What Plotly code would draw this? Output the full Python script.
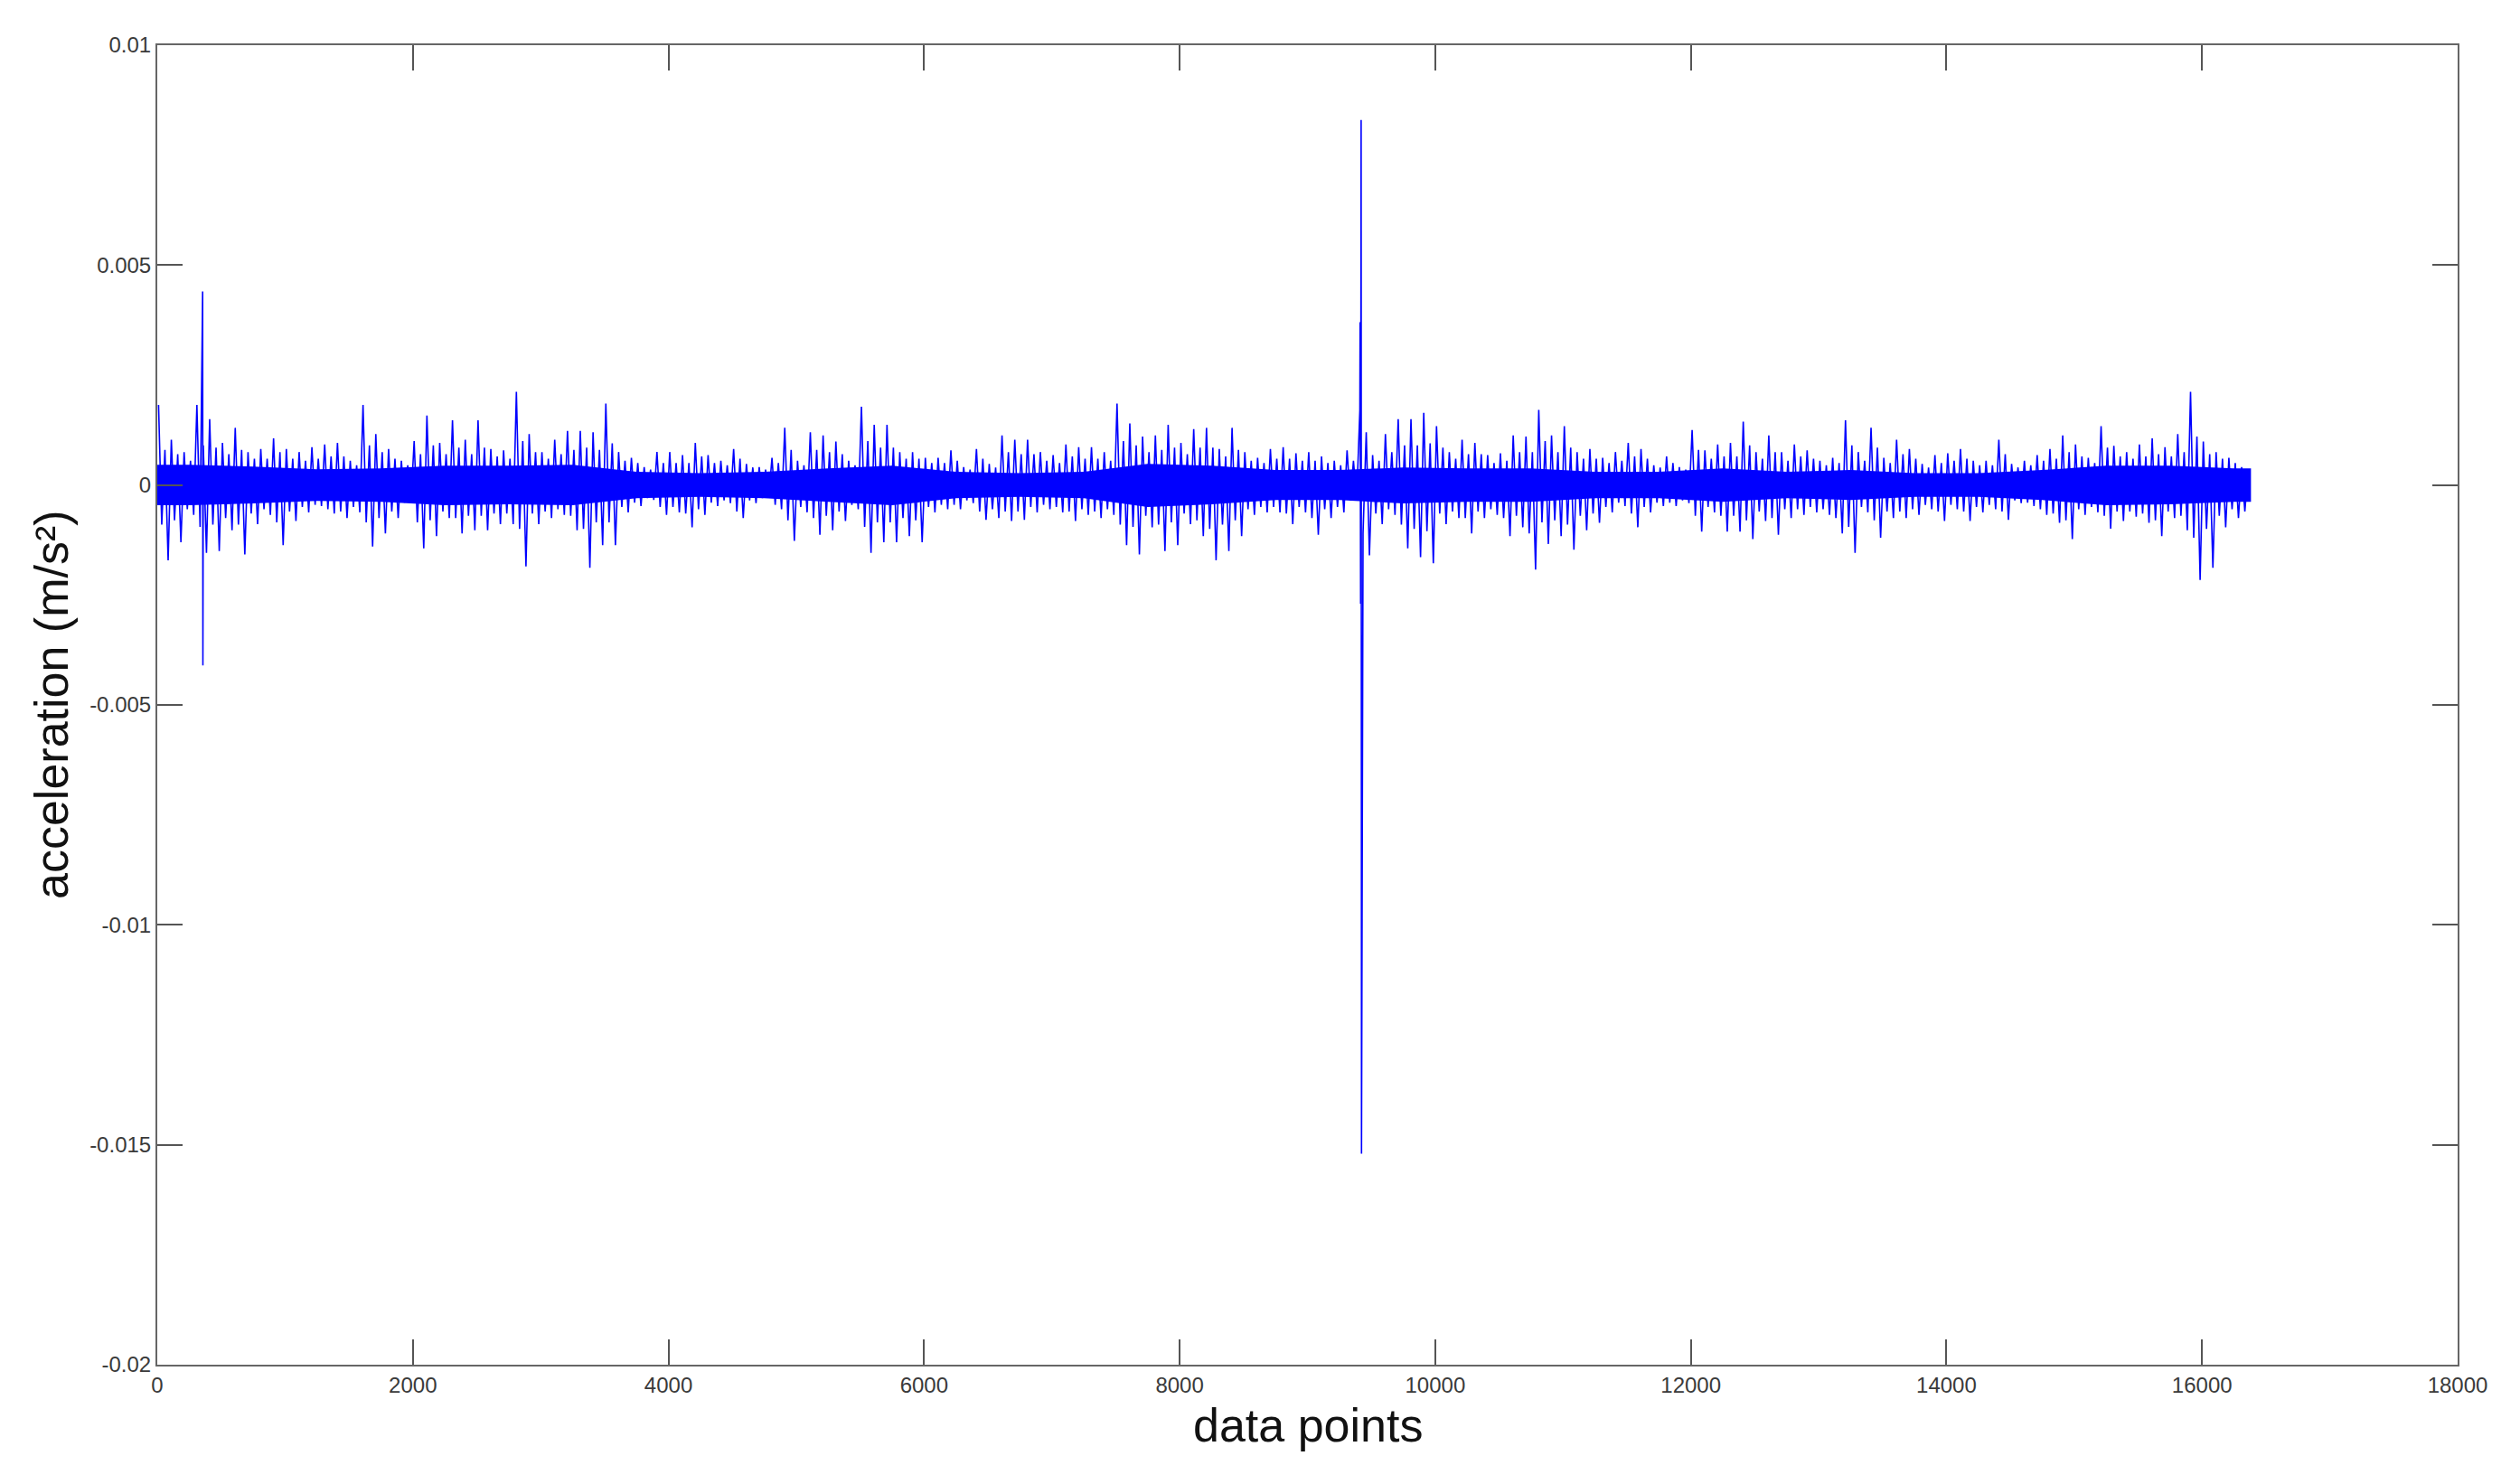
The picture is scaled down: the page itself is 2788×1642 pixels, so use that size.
import numpy as np
import plotly.graph_objects as go

# ---------------- data (acceleration in units of 1e-3 m/s^2) ----------------
VALUE_SCALE = 1e-3
SEGMENT_SIZE = 100          # samples per envelope segment
N_SAMPLES = 16384

# per-100-sample largest positive excursion
upper_peaks = [
    1.82, 1.03, 0.75, 1.82, 1.50, 0.96, 1.30, 0.75, 0.82, 1.06,
    0.82, 0.75, 0.86, 0.92, 0.96, 0.55, 1.82, 1.16, 0.82, 0.55,
    1.00, 1.58, 0.96, 1.47, 1.03, 1.47, 0.82, 0.79, 2.12, 1.16,
    0.75, 1.03, 1.23, 1.23, 1.20, 1.85, 0.75, 0.62, 0.41, 0.75,
    0.75, 0.68, 0.96, 0.68, 0.55, 0.82, 0.48, 0.41, 0.62, 1.30,
    0.55, 1.20, 1.13, 0.99, 0.55, 1.78, 1.37, 1.37, 0.75, 0.75,
    0.62, 0.62, 0.79, 0.41, 0.82, 0.48, 1.13, 1.03, 1.03, 0.75,
    0.68, 0.92, 0.86, 0.86, 0.75, 1.85, 1.40, 1.10, 1.13, 1.37,
    0.96, 1.27, 1.30, 0.82, 1.30, 0.75, 0.62, 0.82, 0.86, 0.72,
    0.75, 0.65, 0.55, 0.79, 1.70, 0.68, 1.16, 1.50, 1.50, 1.64,
    1.34, 0.75, 1.03, 0.96, 0.68, 0.72, 1.13, 1.10, 1.71, 1.13,
    1.34, 0.75, 0.82, 0.62, 0.75, 0.96, 0.82, 0.45, 0.65, 0.41,
    1.25, 0.79, 0.92, 0.96, 1.44, 0.75, 1.13, 0.75, 0.92, 0.79,
    0.55, 0.62, 1.47, 0.75, 1.30, 0.62, 1.03, 0.82, 0.48, 0.68,
    0.72, 0.82, 0.55, 0.55, 1.03, 0.48, 0.55, 0.68, 0.82, 1.13,
    0.92, 0.62, 1.34, 0.89, 0.75, 0.92, 1.06, 0.86, 1.16, 2.12,
    0.99, 0.75, 0.62, 0.41,
]

# per-100-sample largest negative excursion
lower_peaks = [
    -1.71, -1.30, -0.68, -1.54, -1.50, -1.03, -1.58, -0.89, -0.68, -1.37,
    -0.82, -0.62, -0.48, -0.65, -0.75, -0.62, -1.40, -1.10, -0.75, -0.41,
    -1.44, -1.16, -0.75, -1.10, -1.03, -1.03, -0.89, -0.89, -1.85, -0.89,
    -0.75, -0.68, -1.03, -1.88, -1.37, -1.37, -0.62, -0.48, -0.34, -0.68,
    -0.62, -0.96, -0.68, -0.48, -0.41, -0.75, -0.41, -0.27, -0.55, -1.27,
    -0.62, -1.13, -1.03, -0.82, -0.55, -1.54, -1.30, -1.30, -1.16, -1.30,
    -0.62, -0.55, -0.55, -0.41, -0.79, -0.75, -0.82, -0.79, -0.62, -0.55,
    -0.62, -0.82, -0.68, -0.75, -0.68, -1.37, -1.58, -0.96, -1.50, -1.37,
    -0.89, -1.16, -1.71, -1.50, -1.16, -0.68, -0.62, -0.62, -0.89, -0.62,
    -1.13, -0.75, -0.62, -0.34, -1.60, -0.89, -0.68, -1.44, -1.64, -1.78,
    -0.89, -0.75, -1.10, -0.75, -0.68, -1.16, -0.96, -1.92, -1.34, -1.16,
    -1.47, -1.03, -0.86, -0.62, -0.48, -0.96, -0.62, -0.48, -0.48, -0.41,
    -1.06, -0.62, -1.06, -1.06, -1.23, -0.82, -1.13, -0.75, -0.68, -0.62,
    -0.68, -1.10, -1.54, -0.62, -1.20, -0.75, -0.75, -0.68, -0.55, -0.82,
    -0.55, -0.82, -0.62, -0.55, -0.79, -0.41, -0.48, -0.68, -0.86, -1.23,
    -0.68, -0.62, -0.99, -0.82, -0.72, -0.86, -1.16, -0.75, -1.03, -2.16,
    -1.88, -0.96, -0.75, -0.82,
]

# per-100-sample second-largest positive excursion
upper_second = [
    0.80, 0.70, 0.55, 0.90, 0.85, 0.70, 0.80, 0.60, 0.60, 0.75,
    0.60, 0.55, 0.60, 0.65, 0.65, 0.45, 0.90, 0.75, 0.60, 0.45,
    0.70, 0.90, 0.70, 0.85, 0.70, 0.85, 0.65, 0.60, 1.00, 0.75,
    0.60, 0.70, 0.80, 0.85, 0.80, 0.95, 0.55, 0.50, 0.35, 0.50,
    0.50, 0.50, 0.65, 0.50, 0.45, 0.60, 0.40, 0.35, 0.50, 0.80,
    0.45, 0.80, 0.75, 0.70, 0.45, 1.00, 0.85, 0.85, 0.60, 0.60,
    0.50, 0.50, 0.55, 0.35, 0.60, 0.40, 0.75, 0.70, 0.70, 0.55,
    0.50, 0.65, 0.60, 0.60, 0.55, 1.00, 0.90, 0.75, 0.80, 0.85,
    0.70, 0.85, 0.85, 0.65, 0.80, 0.55, 0.50, 0.60, 0.60, 0.55,
    0.55, 0.50, 0.45, 0.55, 1.20, 0.55, 0.75, 0.90, 0.90, 0.95,
    0.85, 0.60, 0.70, 0.70, 0.50, 0.55, 0.75, 0.75, 1.00, 0.75,
    0.85, 0.60, 0.60, 0.50, 0.55, 0.65, 0.60, 0.40, 0.50, 0.35,
    0.80, 0.60, 0.65, 0.65, 0.90, 0.60, 0.75, 0.55, 0.65, 0.60,
    0.45, 0.50, 0.90, 0.55, 0.85, 0.50, 0.70, 0.60, 0.40, 0.50,
    0.55, 0.60, 0.45, 0.45, 0.70, 0.40, 0.45, 0.55, 0.60, 0.75,
    0.65, 0.50, 0.85, 0.65, 0.60, 0.65, 0.70, 0.65, 0.75, 1.10,
    0.70, 0.60, 0.50, 0.35,
]

# per-100-sample second-largest negative excursion
lower_second = [
    -0.90, -0.80, -0.55, -0.95, -0.90, -0.75, -0.90, -0.65, -0.55, -0.85,
    -0.60, -0.50, -0.45, -0.55, -0.60, -0.50, -0.85, -0.75, -0.60, -0.40,
    -0.85, -0.80, -0.60, -0.75, -0.70, -0.70, -0.65, -0.65, -1.00, -0.65,
    -0.60, -0.55, -0.70, -1.00, -0.85, -0.85, -0.50, -0.40, -0.30, -0.50,
    -0.50, -0.65, -0.55, -0.40, -0.35, -0.60, -0.35, -0.30, -0.45, -0.80,
    -0.50, -0.75, -0.70, -0.60, -0.45, -0.95, -0.85, -0.85, -0.75, -0.80,
    -0.50, -0.45, -0.45, -0.35, -0.60, -0.55, -0.60, -0.60, -0.50, -0.45,
    -0.50, -0.60, -0.55, -0.60, -0.55, -0.90, -0.95, -0.70, -0.90, -0.85,
    -0.65, -0.80, -1.00, -0.90, -0.80, -0.55, -0.50, -0.50, -0.65, -0.50,
    -0.75, -0.55, -0.50, -0.35, -1.10, -0.65, -0.55, -0.90, -1.00, -1.05,
    -0.65, -0.60, -0.75, -0.60, -0.55, -0.75, -0.70, -1.10, -0.85, -0.80,
    -0.90, -0.70, -0.65, -0.50, -0.40, -0.65, -0.50, -0.40, -0.40, -0.35,
    -0.70, -0.50, -0.70, -0.70, -0.80, -0.60, -0.75, -0.55, -0.55, -0.50,
    -0.55, -0.75, -0.95, -0.50, -0.80, -0.60, -0.60, -0.55, -0.45, -0.60,
    -0.45, -0.60, -0.50, -0.45, -0.60, -0.35, -0.40, -0.55, -0.65, -0.80,
    -0.55, -0.50, -0.70, -0.60, -0.60, -0.65, -0.80, -0.60, -0.70, -1.20,
    -1.00, -0.70, -0.55, -0.60,
]

# isolated large spikes (sample index, value)
spike_index = [355, 357, 9412, 9416, 9420, 9423]
spike_values = [4.4, -4.1, 3.7, -2.7, 8.3, -15.2]

# dense core band of the signal, per 500-sample block
CORE_BLOCK = 500
core_upper = [0.46, 0.42, 0.36, 0.38, 0.44, 0.44, 0.46, 0.30, 0.27, 0.30,
              0.38, 0.44, 0.30, 0.27, 0.30, 0.48, 0.44, 0.34, 0.34, 0.40,
              0.38, 0.38, 0.30, 0.30, 0.38, 0.30, 0.34, 0.27, 0.27, 0.34,
              0.44, 0.44, 0.38]
core_lower = [-0.46, -0.42, -0.36, -0.38, -0.46, -0.44, -0.46, -0.30, -0.27, -0.30,
              -0.38, -0.46, -0.30, -0.27, -0.30, -0.50, -0.44, -0.34, -0.34, -0.42,
              -0.38, -0.38, -0.30, -0.30, -0.38, -0.30, -0.34, -0.27, -0.27, -0.34,
              -0.46, -0.44, -0.38]

# axis ticks
x_tick_values = [0, 2000, 4000, 6000, 8000, 10000, 12000, 14000, 16000, 18000]
x_tick_labels = ["0", "2000", "4000", "6000", "8000", "10000", "12000", "14000", "16000", "18000"]
y_tick_values = [0.01, 0.005, 0, -0.005, -0.01, -0.015, -0.02]
y_tick_labels = ["0.01", "0.005", "0", "-0.005", "-0.01", "-0.015", "-0.02"]

# ---------------- build traces ----------------
seg_start = np.arange(len(upper_peaks)) * SEGMENT_SIZE
xs = np.concatenate([seg_start + 10, seg_start + 35, seg_start + 60, seg_start + 85,
                     np.array(spike_index)])
ys = np.concatenate([np.array(upper_peaks), np.array(lower_second),
                     np.array(upper_second), np.array(lower_peaks),
                     np.array(spike_values)])
keep = xs < N_SAMPLES
xs, ys = xs[keep], ys[keep]
order = np.argsort(xs, kind="stable")
sig_x = xs[order]
sig_y = ys[order] * VALUE_SCALE

core_x = np.clip(np.arange(len(core_upper)) * CORE_BLOCK + CORE_BLOCK / 2, 0, N_SAMPLES - 1)
cx = np.concatenate([[0], core_x, [N_SAMPLES - 1]])
cu = np.concatenate([[core_upper[0]], core_upper, [core_upper[-1]]]) * VALUE_SCALE
cl = np.concatenate([[core_lower[0]], core_lower, [core_lower[-1]]]) * VALUE_SCALE

BLUE = "#0000FF"
FONT = "Liberation Sans, Arial, Helvetica, sans-serif"

fig = go.Figure()
fig.add_trace(go.Scatter(
    x=np.concatenate([cx, cx[::-1]]),
    y=np.concatenate([cu, cl[::-1]]),
    fill="toself", fillcolor=BLUE, mode="lines",
    line=dict(width=0, color=BLUE), hoverinfo="skip", showlegend=False,
))
fig.add_trace(go.Scatter(
    x=sig_x, y=sig_y, mode="lines",
    line=dict(color=BLUE, width=1.6), showlegend=False,
))

axis_common = dict(
    showline=True, linecolor="#666666", linewidth=2, mirror="ticks",
    ticks="inside", ticklen=28, tickwidth=1.5, tickcolor="#555555",
    showgrid=False, zeroline=False, automargin=False,
    tickfont=dict(family=FONT, size=24, color="#3a3a3a"),
)

fig.update_xaxes(range=[0, 18000], tickmode="array", tickvals=x_tick_values,
                 ticktext=x_tick_labels, **axis_common)
fig.update_yaxes(range=[-0.02, 0.01], tickmode="array", tickvals=y_tick_values,
                 ticktext=y_tick_labels, **axis_common)

# axis titles as annotations placed relative to the plot area
fig.add_annotation(text="data points", xref="paper", yref="paper", x=0.5, y=0,
                   xanchor="center", yanchor="middle", yshift=-67, showarrow=False,
                   font=dict(family=FONT, size=52, color="#111111"))
fig.add_annotation(text="acceleration (m/s²)", xref="paper", yref="paper", x=0, y=0.5,
                   xanchor="center", yanchor="middle", xshift=-117, textangle=-90,
                   showarrow=False, font=dict(family=FONT, size=52, color="#111111"))

# page body adds an 8px offset; margins compensate so the plot area matches
fig.update_layout(
    width=2788, height=1642,
    margin=dict(l=166, r=77, t=42, b=140),
    paper_bgcolor="white", plot_bgcolor="white",
    showlegend=False,
)

fig.write_html("out.html", config={"displayModeBar": False})
